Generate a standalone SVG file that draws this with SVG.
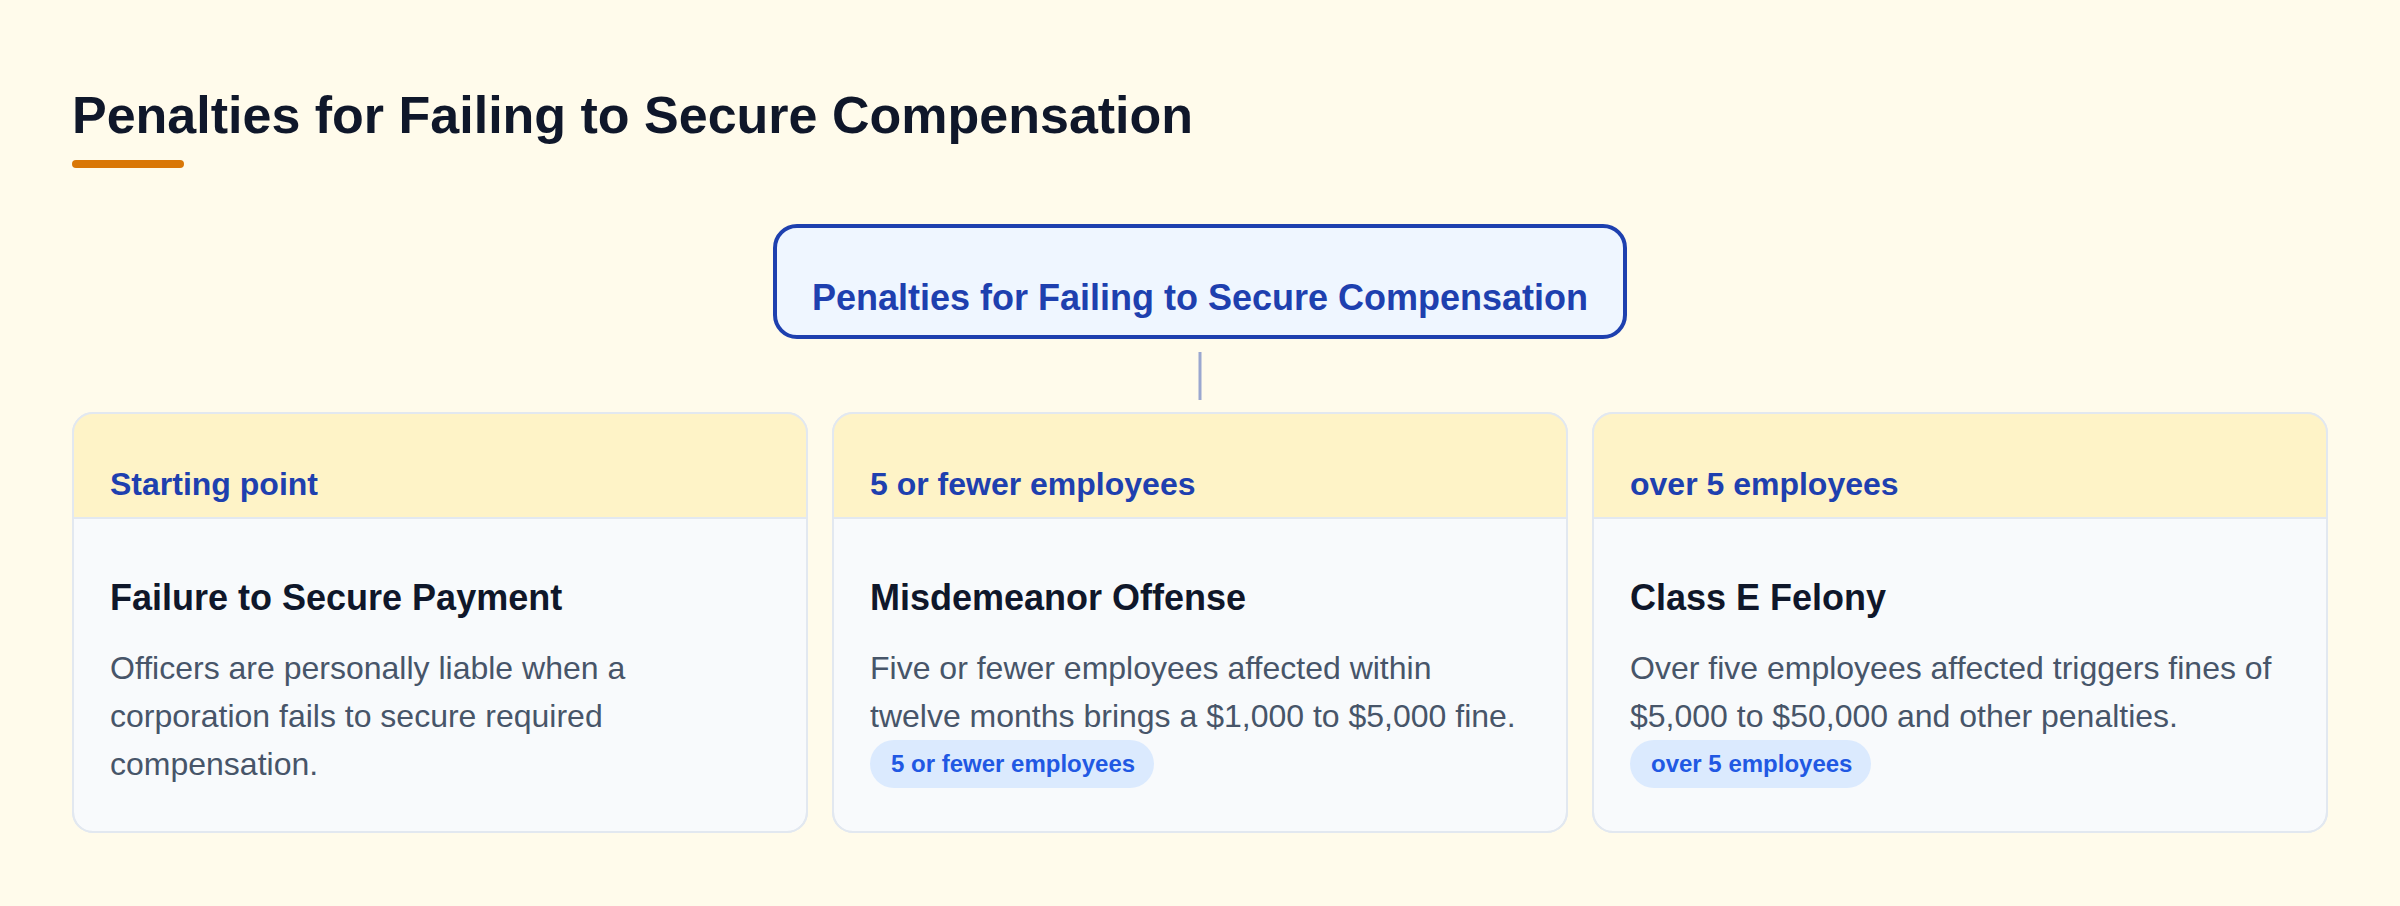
<svg xmlns="http://www.w3.org/2000/svg" width="2400" height="906" viewBox="0 0 2400 906">
<style>
text{font-family:"Liberation Sans",Arial,Helvetica,sans-serif}
.title{font-size:52px;font-weight:700;fill:#0f172a}
.root-box{fill:#eff6ff;stroke:#1e40af;stroke-width:4}
.root-text{font-size:36px;font-weight:700;fill:#1e40af}
.card{fill:#f8fafc;stroke:#e2e8f0;stroke-width:2}
.card-head{fill:#fef3c7}
.divider{stroke:#e2e8f0;stroke-width:2}
.label{font-size:32px;font-weight:700;fill:#1e40af}
.heading{font-size:36px;font-weight:700;fill:#0f172a}
.body{font-size:32px;fill:#475569}
.pill{fill:#dbeafe}
.pill-text{font-size:24px;font-weight:700;fill:#2158e3}
.conn{stroke:#1e40af;stroke-opacity:0.45;stroke-width:3;fill:none}
</style>
<defs>
<clipPath id="c1"><rect x="73" y="413" width="734" height="419" rx="20"/></clipPath>
<clipPath id="c2"><rect x="833" y="413" width="734" height="419" rx="20"/></clipPath>
<clipPath id="c3"><rect x="1593" y="413" width="734" height="419" rx="20"/></clipPath>
</defs>
<rect width="2400" height="906" fill="#fffbeb"/>
<g id="header">
<text class="title" x="72" y="133">Penalties for Failing to Secure Compensation</text>
<rect x="72" y="160" width="112" height="8" rx="4" fill="#d97706"/>
</g>
<g id="connectors">
<line class="conn" x1="1200" y1="352" x2="1200" y2="400"/>
</g>
<g id="root">
<rect class="root-box" x="775" y="226" width="850" height="111" rx="22"/>
<text class="root-text" x="1200" y="310" text-anchor="middle">Penalties for Failing to Secure Compensation</text>
</g>
<g id="card-start">
<rect class="card" x="73" y="413" width="734" height="419" rx="20"/>
<rect class="card-head" x="73" y="413" width="734" height="105" clip-path="url(#c1)"/>
<rect x="73" y="413" width="734" height="419" rx="20" fill="none" stroke="#e2e8f0" stroke-width="2"/>
<line class="divider" x1="73" y1="518" x2="807" y2="518"/>
<text class="label" x="110" y="495">Starting point</text>
<text class="heading" x="110" y="610">Failure to Secure Payment</text>
<text class="body" x="110" y="679">Officers are personally liable when a</text>
<text class="body" x="110" y="727">corporation fails to secure required</text>
<text class="body" x="110" y="775">compensation.</text>
</g>
<g id="card-misdemeanor">
<rect class="card" x="833" y="413" width="734" height="419" rx="20"/>
<rect class="card-head" x="833" y="413" width="734" height="105" clip-path="url(#c2)"/>
<rect x="833" y="413" width="734" height="419" rx="20" fill="none" stroke="#e2e8f0" stroke-width="2"/>
<line class="divider" x1="833" y1="518" x2="1567" y2="518"/>
<text class="label" x="870" y="495">5 or fewer employees</text>
<text class="heading" x="870" y="610">Misdemeanor Offense</text>
<text class="body" x="870" y="679">Five or fewer employees affected within</text>
<text class="body" x="870" y="727">twelve months brings a $1,000 to $5,000 fine.</text>
<rect class="pill" x="870" y="740" width="284" height="48" rx="24"/>
<text class="pill-text" x="891" y="772">5 or fewer employees</text>
</g>
<g id="card-felony">
<rect class="card" x="1593" y="413" width="734" height="419" rx="20"/>
<rect class="card-head" x="1593" y="413" width="734" height="105" clip-path="url(#c3)"/>
<rect x="1593" y="413" width="734" height="419" rx="20" fill="none" stroke="#e2e8f0" stroke-width="2"/>
<line class="divider" x1="1593" y1="518" x2="2327" y2="518"/>
<text class="label" x="1630" y="495">over 5 employees</text>
<text class="heading" x="1630" y="610">Class E Felony</text>
<text class="body" x="1630" y="679">Over five employees affected triggers fines of</text>
<text class="body" x="1630" y="727">$5,000 to $50,000 and other penalties.</text>
<rect class="pill" x="1630" y="740" width="241" height="48" rx="24"/>
<text class="pill-text" x="1651" y="772">over 5 employees</text>
</g>
</svg>
